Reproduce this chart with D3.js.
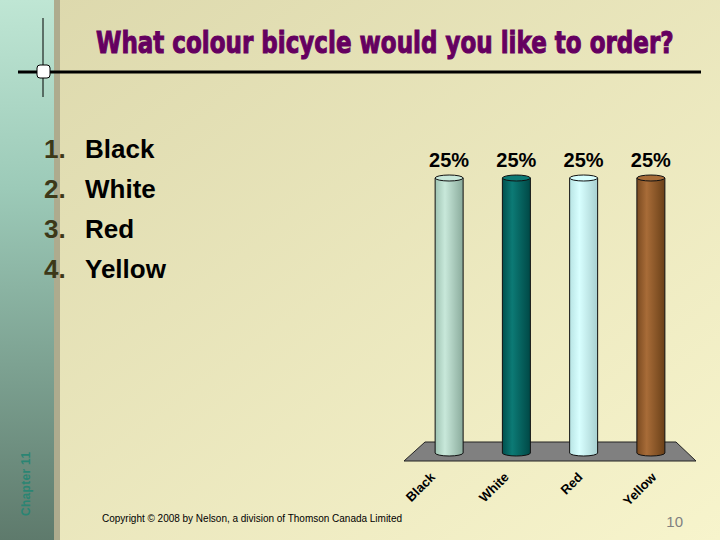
<!DOCTYPE html>
<html>
<head>
<meta charset="utf-8">
<script src="https://cdn.jsdelivr.net/npm/d3@7"></script>
<style>
  body { margin: 0; padding: 0; overflow: hidden; }
  svg { display: block; }
</style>
</head>
<body>
<div id="holder"></div>
<script>
// chart data
const categories = ['Black', 'White', 'Red', 'Yellow'];
const values = [25, 25, 25, 25];
const labels = ['25%', '25%', '25%', '25%'];
const barColors = [
  ['#9fc4b3', '#c8e8da', '#8aab9c'],
  ['#00504e', '#0c7a75', '#004846'],
  ['#b8e4e4', '#d8ffff', '#a8d0d0'],
  ['#7a4a20', '#a86c38', '#6a4018']
];
const listItems = ['Black', 'White', 'Red', 'Yellow'];

const w = 720;
const h = 540;
const font = 'Liberation Sans, Arial, sans-serif';

const svg = d3.select('#holder')
  .append('svg')
  .attr('width', w)
  .attr('height', h);

const defs = svg.append('defs');

// backgrounds
const bg = defs.append('linearGradient').attr('id', 'bg')
  .attr('x1', 0).attr('y1', 0).attr('x2', 1).attr('y2', 1);
bg.append('stop').attr('offset', '0%').attr('stop-color', '#dcd8ac');
bg.append('stop').attr('offset', '100%').attr('stop-color', '#f7f4cc');

const side = defs.append('linearGradient').attr('id', 'side')
  .attr('x1', 0).attr('y1', 0).attr('x2', 0).attr('y2', 1);
side.append('stop').attr('offset', '0%').attr('stop-color', '#bfe6d4');
side.append('stop').attr('offset', '35%').attr('stop-color', '#9ccab8');
side.append('stop').attr('offset', '100%').attr('stop-color', '#5e7a6c');

svg.append('rect').attr('width', w).attr('height', h).attr('fill', 'url(#bg)');
svg.append('rect').attr('width', 54).attr('height', h).attr('fill', 'url(#side)');
svg.append('rect').attr('x', 54).attr('width', 6).attr('height', h).attr('fill', '#aeab8e');

// chapter label
svg.append('text')
  .attr('transform', 'translate(30,516) rotate(-90)')
  .attr('font-family', font)
  .attr('font-weight', 'bold')
  .attr('font-size', 12)
  .attr('letter-spacing', 0.3)
  .attr('fill', '#2a8573')
  .text('Chapter 11');

// title decoration
svg.append('line').attr('x1', 18).attr('x2', 701).attr('y1', 72).attr('y2', 72)
  .attr('stroke', '#000').attr('stroke-width', 3);
svg.append('line').attr('x1', 43).attr('x2', 43).attr('y1', 18).attr('y2', 97)
  .attr('stroke', '#000').attr('stroke-width', 1);
svg.append('rect').attr('x', 37).attr('y', 65).attr('width', 13).attr('height', 13)
  .attr('rx', 3).attr('fill', '#fff').attr('stroke', '#000').attr('stroke-width', 1);

// title, squeezed horizontally to the width it has in the slide
const title = svg.append('text')
  .attr('x', 0).attr('y', 0)
  .attr('font-family', 'DejaVu Sans, sans-serif')
  .attr('font-weight', 'bold')
  .attr('font-size', 31)
  .attr('fill', '#650060')
  .attr('stroke', '#650060').attr('stroke-width', 1.1)
  .text('What colour bicycle would you like to order?');
const tw = title.node().getComputedTextLength();
title.attr('transform', 'translate(96,53) scale(' + (578 / tw) + ',1)');

// numbered list
const list = svg.append('g');
listItems.forEach((d, i) => {
  list.append('text')
    .attr('x', 44).attr('y', 158 + i * 40)
    .attr('font-family', font)
    .attr('font-weight', 'bold').attr('font-size', 26)
    .attr('fill', '#3d3818')
    .text((i + 1) + '.');
  list.append('text')
    .attr('x', 85).attr('y', 158 + i * 40)
    .attr('font-family', font)
    .attr('font-weight', 'bold').attr('font-size', 26)
    .attr('fill', '#000')
    .text(d);
});

// chart
const xScale = d3.scaleBand()
  .domain(categories)
  .range([415.5, 684.5])
  .paddingInner(0.58)
  .paddingOuter(0.29);

// labels sit on the front of the floor, so they spread a bit wider
const labelScale = d3.scaleBand()
  .domain(categories)
  .range([397, 692])
  .paddingInner(0.58)
  .paddingOuter(0.29);

const yScale = d3.scaleLinear()
  .domain([0, 25])
  .range([453, 178]);

// floor
svg.append('path')
  .attr('d', 'M425,442 L676,442 L696,461 L404,461 Z')
  .attr('fill', '#808080')
  .attr('stroke', '#222')
  .attr('stroke-width', 1);

categories.forEach((c, i) => {
  const g = defs.append('linearGradient').attr('id', 'cyl' + i)
    .attr('x1', 0).attr('y1', 0).attr('x2', 1).attr('y2', 0);
  g.append('stop').attr('offset', '0%').attr('stop-color', barColors[i][0]);
  g.append('stop').attr('offset', '35%').attr('stop-color', barColors[i][1]);
  g.append('stop').attr('offset', '100%').attr('stop-color', barColors[i][2]);
});

const bw = 28;
const ry = 3;
const bars = svg.selectAll('g.bar')
  .data(values)
  .enter()
  .append('g')
  .attr('class', 'bar');

bars.append('path')
  .attr('d', (d, i) => {
    const cx = xScale(categories[i]) + xScale.bandwidth() / 2;
    const x0 = cx - bw / 2, x1 = cx + bw / 2;
    const yb = yScale(0), yt = yScale(d);
    return 'M' + x0 + ',' + yt + ' L' + x0 + ',' + yb +
      ' A' + (bw / 2) + ',' + ry + ' 0 0 0 ' + x1 + ',' + yb +
      ' L' + x1 + ',' + yt + ' Z';
  })
  .attr('fill', (_, i) => 'url(#cyl' + i + ')')
  .attr('stroke', '#111').attr('stroke-width', 1);

bars.append('ellipse')
  .attr('cx', (_, i) => xScale(categories[i]) + xScale.bandwidth() / 2)
  .attr('cy', d => yScale(d))
  .attr('rx', bw / 2).attr('ry', ry)
  .attr('fill', (_, i) => barColors[i][1])
  .attr('stroke', '#111').attr('stroke-width', 1);

bars.append('text')
  .attr('x', (_, i) => xScale(categories[i]) + xScale.bandwidth() / 2)
  .attr('y', d => yScale(d) - 11)
  .attr('text-anchor', 'middle')
  .attr('font-family', font)
  .attr('font-weight', 'bold').attr('font-size', 20)
  .attr('fill', '#000')
  .text((_, i) => labels[i]);

// category axis labels
svg.selectAll('text.cat')
  .data(categories)
  .enter()
  .append('text')
  .attr('class', 'cat')
  .attr('transform', d => 'translate(' + (labelScale(d) + labelScale.bandwidth() / 2 + 2) + ',478) rotate(-45)')
  .attr('text-anchor', 'end')
  .attr('font-family', font)
  .attr('font-weight', 'bold').attr('font-size', 13)
  .attr('fill', '#000')
  .text(d => d);

// footer
svg.append('text')
  .attr('x', 102).attr('y', 522)
  .attr('font-family', font)
  .attr('font-size', 10)
  .attr('textLength', 300)
  .attr('lengthAdjust', 'spacing')
  .attr('fill', '#000')
  .text('Copyright \u00A9 2008 by Nelson, a division of Thomson Canada Limited');

svg.append('text')
  .attr('x', 683).attr('y', 527)
  .attr('text-anchor', 'end')
  .attr('font-family', font)
  .attr('font-size', 15)
  .attr('fill', '#808080')
  .text('10');
</script>
</body>
</html>
